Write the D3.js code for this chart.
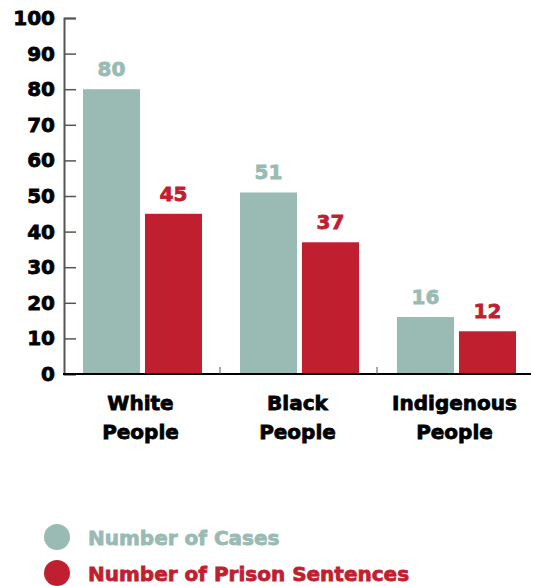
<!DOCTYPE html>
<html>
<head>
<meta charset="utf-8">
<script src="https://cdn.jsdelivr.net/npm/d3@7"></script>
<style>
  body { margin: 0; background: #fff; }
  text { font-family: "DejaVu Sans", sans-serif; font-weight: bold; stroke-width: 0.8px; }
</style>
</head>
<body>
<div id="chart"></div>
<script>
  var categories = ["White People", "Black People", "Indigenous People"];
  var seriesNames = ["Number of Cases", "Number of Prison Sentences"];
  var cases = [80, 51, 16];
  var sentences = [45, 37, 12];
  var yTicks = [0, 10, 20, 30, 40, 50, 60, 70, 80, 90, 100];
  var colors = ["#99bbb4", "#c01f2f"];

  var width = 533, height = 586;
  var svg = d3.select("#chart").append("svg")
      .attr("width", width)
      .attr("height", height);

  var y = d3.scaleLinear().domain([0, 100]).range([374, 18]);
  var x0 = d3.scaleBand().domain(categories).range([63, 534]).padding(0);
  var x1 = d3.scaleBand().domain(seriesNames).range([20, 139]).paddingInner(0.08);

  // y axis
  var yAxis = d3.axisRight(y).tickValues(yTicks).tickSize(12).tickFormat("");
  var gy = svg.append("g").attr("transform", "translate(64,0)").call(yAxis);
  gy.select(".domain").attr("stroke", "#555").attr("stroke-width", 2);
  gy.selectAll(".tick line").attr("stroke", "#555").attr("stroke-width", 1.5);

  svg.append("g").selectAll("text")
     .data(yTicks).enter()
     .append("text")
     .attr("x", 55)
     .attr("y", function(d){ return y(d) + 7; })
     .attr("text-anchor", "end")
     .attr("font-size", "20px")
     .attr("fill", "#000")
     .attr("stroke", "#000")
     .text(function(d){ return d; });

  // bars
  var rows = categories.map(function(c, i){
      return {cat: c, vals: [cases[i], sentences[i]]};
  });

  var groups = svg.append("g").selectAll("g")
      .data(rows).enter()
      .append("g")
      .attr("transform", function(d){ return "translate(" + x0(d.cat) + ",0)"; });

  groups.selectAll("rect")
      .data(function(d){ return d.vals.map(function(v, j){ return {s: seriesNames[j], v: v, j: j}; }); })
      .enter().append("rect")
      .attr("x", function(d){ return x1(d.s); })
      .attr("y", function(d){ return y(d.v); })
      .attr("width", x1.bandwidth())
      .attr("height", function(d){ return y(0) - y(d.v); })
      .attr("fill", function(d){ return colors[d.j]; });

  groups.selectAll(".val")
      .data(function(d){ return d.vals.map(function(v, j){ return {s: seriesNames[j], v: v, j: j}; }); })
      .enter().append("text")
      .attr("class", "val")
      .attr("x", function(d){ return x1(d.s) + x1.bandwidth() / 2; })
      .attr("y", function(d){ return y(d.v) - 13; })
      .attr("text-anchor", "middle")
      .attr("font-size", "20px")
      .attr("fill", function(d){ return colors[d.j]; })
      .attr("stroke", function(d){ return colors[d.j]; })
      .text(function(d){ return d.v; });

  // x baseline + group ticks
  svg.append("line")
     .attr("x1", 63).attr("x2", 531)
     .attr("y1", y(0)).attr("y2", y(0))
     .attr("stroke", "#000").attr("stroke-width", 2);

  svg.append("g").selectAll("line")
     .data(categories.slice(1)).enter()
     .append("line")
     .attr("x1", function(d){ return x0(d); })
     .attr("x2", function(d){ return x0(d); })
     .attr("y1", y(0) - 7).attr("y2", y(0))
     .attr("stroke", "#555").attr("stroke-width", 1);

  // category labels
  var lab = svg.append("g").selectAll("text")
     .data(categories).enter()
     .append("text")
     .attr("text-anchor", "middle")
     .attr("font-size", "20px")
     .attr("fill", "#000")
     .attr("stroke", "#000")
     .attr("x", function(d){ return x0(d) + x0.bandwidth() / 2 - 1; })
     .attr("y", 410);
  lab.each(function(d){
      var parts = d.split(" ");
      var t = d3.select(this);
      var cx = t.attr("x");
      t.append("tspan").attr("x", cx).attr("dy", 0).text(parts[0]);
      t.append("tspan").attr("x", cx).attr("dy", 29).text(parts[1]);
  });

  // legend
  var leg = svg.append("g").selectAll("g")
     .data(seriesNames).enter()
     .append("g")
     .attr("transform", function(d, i){ return "translate(0," + (537 + i * 36) + ")"; });
  leg.append("circle").attr("cx", 57).attr("cy", 0).attr("r", 13)
     .attr("fill", function(d, i){ return colors[i]; });
  leg.append("text").attr("x", 88).attr("y", 8)
     .attr("font-size", "20px")
     .attr("fill", function(d, i){ return colors[i]; })
     .attr("stroke", function(d, i){ return colors[i]; })
     .text(function(d){ return d; });
</script>
</body>
</html>
